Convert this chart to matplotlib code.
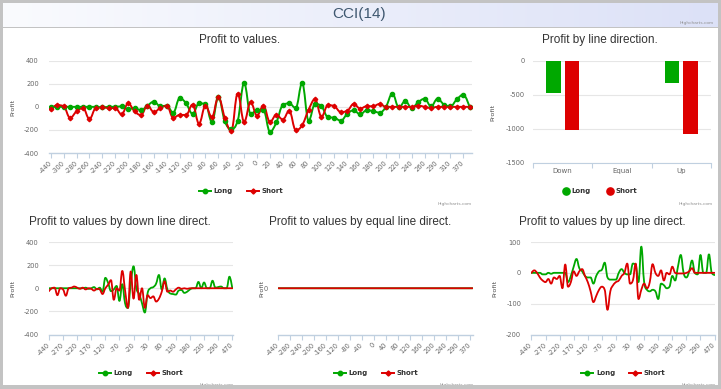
import numpy as np
import matplotlib.pyplot as plt
from matplotlib.path import Path
from matplotlib.patches import PathPatch, Rectangle
from matplotlib.lines import Line2D
from matplotlib.colors import LinearSegmentedColormap

plt.rcParams['axes.unicode_minus'] = False

# ---- data ----
categories = [-440, -310, -300, -290, -280, -270, -260, -250, -240, -230,
              -220, -210, -200, -190, -180, -170, -160, -150, -140, -130,
              -120, -110, -100, -90, -80, -70, -60, -50, -40, -30,
              -20, -10, 0, 10, 20, 30, 40, 50, 60, 70,
              80, 90, 100, 110, 120, 130, 140, 150, 160, 170,
              180, 190, 200, 210, 220, 230, 240, 250, 260, 270,
              290, 300, 310, 330, 370, 470]

all_long = [0, 0, 0, 0, 0, 0, 0, 0, -5, 0,
            0, 5, -20, -10, -30, 10, 45, 5, 10, -50,
            75, 30, -60, 30, 25, -130, 85, -125, -190, -120,
            205, -60, -30, -30, -215, -135, 15, 30, -10, 205,
            -120, 25, 5, -90, -95, -120, -60, -30, -65, -30,
            -37, -50, 0, 115, -5, 50, -10, 40, 70, 5,
            70, 20, 5, 65, 105, -5]
all_short = [-20, 15, 5, -95, -40, -10, -105, -10, -5, -10,
             -10, -65, 30, -40, -70, 10, -45, -10, 10, -95,
             -70, -70, 20, -145, 10, -90, 85, -95, -210, 115,
             -130, 40, -75, 10, -130, -70, -110, -35, -200, -160,
             -25, 65, -85, 15, 5, -45, -35, 25, -15, 5,
             5, 25, 0, 0, 0, 0, 0, 10, 0, -10,
             0, 0, 0, 0, 0, 0]

down_long = [0, 0, 0, 0, 0, 0, 0, 0, 0, 0,
             0, 0, 0, 5, -5, 0, 10, -10, 5, -30,
             90, 45, -25, -10, 20, -110, 35, -130, -170, 40,
             190, 0, -50, -130, -210, -40, 0, 10, 40, 115,
             -10, 85, -10, -45, -50, -55, -20, -15, -40, -30,
             -10, 0, 0, 55, 0, 50, 0, 0, 65, 5,
             10, 15, 0, 0, 100, 0]
down_short = [-25, 0, 5, -60, 0, -10, -65, 0, 5, 15,
              5, -5, 5, -10, 0, -5, -20, -5, -10, -50,
              0, 30, 70, -100, 0, -20, 150, -20, -170, 145,
              -90, 115, -100, 0, -170, -60, -85, -70, -115, -90,
              -30, 60, -30, -20, -30, -10, 5, -5, 0, -5,
              0, 0, 0, 0, 0, 0, 0, 0, 0, 0,
              0, 0, 0, 0, 0, 0]

equal_long = [0, 0, 0, 0, 0, 0, 0, 0, 0, 0, 0, 0, 0, 0, 0, 0, 0, 0, 0, 0, 0, 0,
              0, 0, 0, 0, 0, 0, 0, 0, 0, 0, 0, 0, 0, 0, 0, 0, 0, 0, 0, 0, 0, 0,
              0, 0, 0, 0, 0, 0, 0, 0, 0, 0, 0, 0, 0, 0, 0, 0, 0, 0, 0, 0, 0, 0]
equal_short = [0, 0, 0, 0, 0, 0, 0, 0, 0, 0, 0, 0, 0, 0, 0, 0, 0, 0, 0, 0, 0, 0,
               0, 0, 0, 0, 0, 0, 0, 0, 0, 0, 0, 0, 0, 0, 0, 0, 0, 0, 0, 0, 0, 0,
               0, 0, 0, 0, 0, 0, 0, 0, 0, 0, 0, 0, 0, 0, 0, 0, 0, 0, 0, 0, 0, 0]

up_long = [0, 0, 0, 0, -5, -5, 0, -3, 0, 0,
           0, 0, 0, -30, -10, 20, 45, 15, 5, -10,
           -15, -15, -35, -10, 5, 10, 33, -15, -22, -22,
           -22, 0, 12, 0, -5, -5, 30, 25, -30, 85,
           -30, -55, -60, -55, -60, -85, -35, -40, -50, -45,
           -10, -25, 20, 58, 0, -15, 5, 40, 0, -5,
           58, 0, 0, 60, 0, -7]
up_short = [0, 8, 0, -15, -25, -30, -20, -35, -15, -20,
            -10, -50, 27, -45, -30, 5, -10, 5, 12, -10,
            -30, -60, -95, -75, -55, -45, -55, -120, -60, -40,
            -30, -25, -10, 0, 30, -35, -25, 30, -85, -55,
            -35, -50, -30, 28, 0, -10, 8, -25, 0, -5,
            20, 0, -2, -2, -2, 0, 5, 15, 0, 0,
            0, 0, 0, 0, 0, 0]

directions = ['Down', 'Equal', 'Up']
dir_long = [-480, 0, -330]
dir_short = [-1020, 0, -1080]

GREEN = '#00a800'
RED = '#dd0000'
W, H = 721, 389
TITLE_FONT = ['Liberation Sans', 'DejaVu Sans']


def px_axes(fig, x0, y0, x1, y1):
    # axes placed by pixel box (top-left origin)
    return fig.add_axes([x0 / W, 1 - y1 / H, (x1 - x0) / W, (y1 - y0) / H])


def ftext(fig, x, y, s, **kw):
    return fig.text(x / W, 1 - y / H, s, **kw)


def spline_path(xs, ys):
    '''Highcharts-like spline as a cubic bezier path'''
    n = len(xs)
    sm = 1.5
    den = sm + 1
    conts = []
    for i in range(n):
        if i == 0 or i == n - 1:
            conts.append((xs[i], ys[i], xs[i], ys[i]))
            continue
        lx, ly = xs[i - 1], ys[i - 1]
        px, py = xs[i], ys[i]
        nx, ny = xs[i + 1], ys[i + 1]
        lcx = (sm * px + lx) / den
        lcy = (sm * py + ly) / den
        rcx = (sm * px + nx) / den
        rcy = (sm * py + ny) / den
        corr = ((rcy - lcy) * (rcx - px)) / (rcx - lcx) + py - rcy
        lcy += corr
        rcy += corr
        if lcy > ly and lcy > py:
            lcy = max(ly, py)
            rcy = 2 * py - lcy
        elif lcy < ly and lcy < py:
            lcy = min(ly, py)
            rcy = 2 * py - lcy
        if rcy > ny and rcy > py:
            rcy = max(ny, py)
            lcy = 2 * py - rcy
        elif rcy < ny and rcy < py:
            rcy = min(ny, py)
            lcy = 2 * py - rcy
        conts.append((lcx, lcy, rcx, rcy))
    verts = [(xs[0], ys[0])]
    codes = [Path.MOVETO]
    for i in range(1, n):
        verts += [(conts[i - 1][2], conts[i - 1][3]), (conts[i][0], conts[i][1]), (xs[i], ys[i])]
        codes += [Path.CURVE4] * 3
    return Path(verts, codes)


def draw_spline(ax, values, color, lw=1.4):
    xs = list(range(len(values)))
    ax.add_patch(PathPatch(spline_path(xs, values), fill=False, edgecolor=color, lw=lw,
                           capstyle='round', joinstyle='round', zorder=3))


def style_axes(ax, ylim, yticks, label_step, xpad):
    n = len(categories)
    ax.set_xlim(-xpad, n - 1 + xpad)
    ax.set_ylim(*ylim)
    ax.set_yticks(yticks)
    ax.set_yticklabels([str(v) for v in yticks])
    ax.yaxis.grid(True, color='#e6e6e6', lw=0.8)
    ax.set_axisbelow(True)
    ax.set_facecolor('none')
    for s in ['top', 'right', 'left']:
        ax.spines[s].set_visible(False)
    ax.spines['bottom'].set_color('#c0d0e0')
    ax.spines['bottom'].set_linewidth(1.0)
    ticks = list(range(0, n, label_step))
    ax.set_xticks(ticks)
    ax.set_xticklabels([str(categories[i]) for i in ticks], rotation=45, ha='right',
                       va='center', rotation_mode='anchor', fontsize=4.8, color='#666666')
    ax.tick_params(axis='x', length=3.5, width=0.8, color='#c0d0e0', pad=3)
    ax.tick_params(axis='y', length=0, labelsize=4.8, labelcolor='#666666', pad=7)


def line_legend(fig, cx, cy):
    handles = [Line2D([], [], color=GREEN, lw=1.4, marker='o', markersize=3.2),
               Line2D([], [], color=RED, lw=1.4, marker='D', markersize=2.6)]
    fig.legend(handles, ['Long', 'Short'], loc='center', bbox_to_anchor=(cx / W, 1 - cy / H),
               ncol=2, frameon=False, prop={'size': 5, 'weight': 'bold'},
               handlelength=1.7, handletextpad=0.4, columnspacing=2.0, labelcolor='#333333')


fig = plt.figure(figsize=(W / 100, H / 100), dpi=100)
fig.patch.set_facecolor('#c3c3c3')

# white panel, drawn below the axes
fig.patches.append(Rectangle((3 / W, 1 - 385 / H), 715 / W, 357 / H, transform=fig.transFigure,
                             facecolor='white', edgecolor='none', zorder=-5))

# header band with gradient
hax = px_axes(fig, 3, 3, 718, 27)
grad = np.linspace(0, 1, 256).reshape(1, -1)
hcmap = LinearSegmentedColormap.from_list('hdr', ['#fafbfe', '#dce1f7'])
hax.imshow(grad, aspect='auto', cmap=hcmap, extent=(0, 1, 0, 1))
hax.axis('off')
ftext(fig, 359, 14, 'CCI(14)', ha='center', va='center', fontsize=11, color='#3e576f',
      family=TITLE_FONT)
ftext(fig, 714, 23, 'Highcharts.com', ha='right', va='center', fontsize=3.2, color='#909090')

# ---- top left: profit to values ----
ax1 = px_axes(fig, 48.5, 60.7, 472, 153)
idx = list(range(len(categories)))
draw_spline(ax1, all_long, GREEN)
draw_spline(ax1, all_short, RED)
ax1.plot(idx, all_long, ls='none', marker='o', markersize=3.0, color=GREEN, zorder=4)
ax1.plot(idx, all_short, ls='none', marker='D', markersize=2.3, color=RED, zorder=5)
style_axes(ax1, (-400, 400), [-400, -200, 0, 200, 400], 2, 0.35)
ftext(fig, 240, 40, 'Profit to values.', ha='center', va='center', fontsize=8.5, color='#333333',
      family=TITLE_FONT)
ftext(fig, 13, 107, 'Profit', rotation=90, ha='center', va='center', fontsize=4.6, color='#4d4d4d')
line_legend(fig, 241, 191)
ftext(fig, 472, 204, 'Highcharts.com', ha='right', va='center', fontsize=3.2, color='#909090')

# ---- top right: profit by line direction ----
ax2 = px_axes(fig, 533, 60.7, 711, 162.7)
pos = np.arange(len(directions))
ax2.bar(pos - 0.155, dir_long, width=0.245, color=GREEN, zorder=3)
ax2.bar(pos + 0.155, dir_short, width=0.245, color=RED, zorder=3)
ax2.set_xlim(-0.5, 2.5)
ax2.set_ylim(-1500, 0)
ax2.set_yticks([-1500, -1000, -500, 0])
ax2.set_yticklabels(['-1500', '-1000', '-500', '0'])
ax2.yaxis.grid(True, color='#e6e6e6', lw=0.8)
ax2.set_axisbelow(True)
ax2.set_facecolor('none')
for s in ['top', 'right', 'left']:
    ax2.spines[s].set_visible(False)
ax2.spines['bottom'].set_color('#c0d0e0')
ax2.set_xticks(pos)
ax2.set_xticklabels(directions, fontsize=5, color='#666666')
ax2.set_xticks([-0.5, 0.5, 1.5, 2.5], minor=True)
ax2.tick_params(axis='x', which='major', length=0, pad=4)
ax2.tick_params(axis='x', which='minor', length=3.5, width=0.8, color='#c0d0e0')
ax2.tick_params(axis='y', length=0, labelsize=4.8, labelcolor='#666666', pad=6)
ftext(fig, 600, 40, 'Profit by line direction.', ha='center', va='center', fontsize=8.5,
      color='#333333', family=TITLE_FONT)
ftext(fig, 493, 112, 'Profit', rotation=90, ha='center', va='center', fontsize=4.6, color='#4d4d4d')
bhandles = [Line2D([], [], ls='none', marker='o', markersize=5.2, color=GREEN),
            Line2D([], [], ls='none', marker='o', markersize=5.2, color=RED)]
fig.legend(bhandles, ['Long', 'Short'], loc='center', bbox_to_anchor=(600 / W, 1 - 191 / H),
           ncol=2, frameon=False, prop={'size': 5, 'weight': 'bold'}, handlelength=1.0,
           handletextpad=0.3, columnspacing=2.2, labelcolor='#333333')
ftext(fig, 713, 204, 'Highcharts.com', ha='right', va='center', fontsize=3.2, color='#909090')

# ---- bottom row ----
bottom = [
    (48.5, 232.7, down_long, down_short, (-400, 400), [-400, -200, 0, 200, 400], 5,
     'Profit to values by down line direct.', 120, 12.5),
    (278, 473, equal_long, equal_short, (-1, 1), [0], 4,
     'Profit to values by equal line direct.', 360, 262),
    (531, 715, up_long, up_short, (-200, 100), [-200, -100, 0, 100], 5,
     'Profit to values by up line direct.', 602, 495),
]
for x0, x1, lv, sv, ylim, yt, step, title, tcx, ylx in bottom:
    ax = px_axes(fig, x0, 242, x1, 334.5)
    draw_spline(ax, lv, GREEN, lw=1.3)
    draw_spline(ax, sv, RED, lw=1.3)
    style_axes(ax, ylim, yt, step, 0.15)
    if len(yt) == 1:
        ax.yaxis.grid(False)
    ftext(fig, tcx, 221.5, title, ha='center', va='center', fontsize=8.5, color='#333333',
          family=TITLE_FONT)
    ftext(fig, ylx, 288, 'Profit', rotation=90, ha='center', va='center', fontsize=4.6,
          color='#4d4d4d')
    line_legend(fig, (x0 + x1) / 2 + 0.5, 373)
    ftext(fig, x1 + 1, 385, 'Highcharts.com', ha='right', va='center', fontsize=3.2,
          color='#909090', zorder=1)

# bottom gray strip hides the cut credits
fig.patches.append(Rectangle((0, 0), 1, 4 / H, transform=fig.transFigure,
                             facecolor='#c3c3c3', edgecolor='none', zorder=20))

fig.savefig('out.png', dpi=100, facecolor=fig.get_facecolor())
